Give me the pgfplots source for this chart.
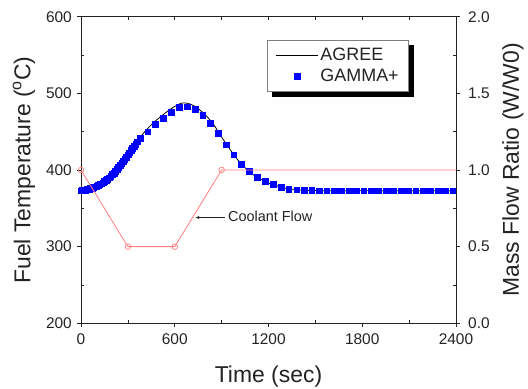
\documentclass[border=0pt]{standalone}
\usepackage{fontspec}
\setmainfont{Liberation Sans}
\usepackage{pgfplots}
\pgfplotsset{compat=1.18}
\usetikzlibrary{arrows.meta,backgrounds}
\definecolor{txt}{RGB}{35,35,35}
\definecolor{cool}{RGB}{255,125,125}
\definecolor{gblue}{RGB}{0,0,255}
\begin{document}
\begin{tikzpicture}
\useasboundingbox (-81bp,-65.7bp) rectangle (447bp,323.3bp);
\pgfplotsset{
  base/.style={
    width=375bp, height=306.6bp, scale only axis,
    xmin=0, xmax=2400,
    /pgf/number format/assume math mode=true,
    /pgf/number format/1000 sep={},
    tick align=inside,
    major tick length=-4bp, minor tick length=3.5bp,
    every tick/.style={txt, line width=0.6bp},
    axis line style={txt, line width=0.8bp},
    ticklabel style={font=\fontsize{15.5}{18}\selectfont, text=txt},
    label style={font=\fontsize{23}{27}\selectfont, text=txt},
  }
}
\begin{axis}[base,
  ymin=200, ymax=600,
  xtick={0,600,1200,1800,2400}, minor xtick={300,900,1500,2100},
  ytick={200,300,400,500,600}, minor ytick={250,350,450,550},
  xtick pos=bottom, ytick pos=left,
  yticklabel style={anchor=east, inner sep=0pt, xshift=-9bp},
  xticklabel style={anchor=north, inner sep=0pt, yshift=-10bp},
  xlabel={Time (sec)},
  ylabel={Fuel Temperature (\textsuperscript{o}C)},
  xlabel style={at={(axis description cs:0.5,-0.173)}, anchor=center},
  ylabel style={at={(axis description cs:-0.152,0.5)}, anchor=center},
  legend style={name=leg, at={(0.4968,0.924)}, anchor=north west, draw=gray, fill=white,
    line width=0.8bp,
    font=\fontsize{18}{21}\selectfont, text=txt,
    inner xsep=8bp, inner ysep=6bp, row sep=3bp},
  legend cell align=left,
  legend image code/.code={\draw[mark repeat=2,mark phase=2,#1] plot coordinates {(0bp,0bp) (21bp,0bp) (42bp,0bp)};},
]
\addplot[black, line width=0.8bp, smooth, tension=0.5] table {
t T
0 373
50 375
100 379
150 385
200 394
250 406
300 420
350 434
400 448
450 459
500 468
550 476
600 483
650 487.5
700 486
750 480
800 471
850 459
900 443
950 428
1000 414
1050 403
1100 394
1150 388
1200 383
1250 379.5
1300 376.5
1350 375
1400 374
1450 373.4
1500 373.1
1600 373
1800 373
2000 373
2200 373
2400 373
};
\addlegendentry{AGREE}
\addplot[only marks, mark=square*, mark size=2.9bp, gblue, mark options={draw=gblue, fill=gblue}] table {
t T
0 373
10 373.2
20 373.5
30 374
40 374.5
50 375.2
60 376
70 376.7
80 377.5
90 378.2
100 379
110 380
120 381
130 382.2
140 383.5
150 385
160 386.5
170 388.2
180 390
190 392
200 394
210 396.2
220 398.5
230 401
240 403.5
250 406.2
260 409
270 411.7
280 414.5
290 417.2
300 420
310 422.7
320 425.5
330 428.2
340 431
350 434
360 437
378 442
427 450
476 460
527 468
578 475.5
627 482
678 482.5
730 479
779 472
828 461.5
879 448
928 433
977 420
1026 408
1077 398
1128 391
1178 385
1229 381
1280 377.5
1329 375.3
1380 374.2
1429 373.5
1477 373.2
1524 373
1572 373
1619 373
1667 373
1714 373
1762 373
1809 373
1857 373
1904 373
1952 373
1999 373
2047 373
2094 373
2142 373
2189 373
2237 373
2284 373
2332 373
2380 373
};
\addlegendentry{GAMMA+}
\draw[txt, line width=0.6bp, -{Stealth[length=4bp,width=3bp]}] (axis cs:920,338) -- (axis cs:733,338);
\node[anchor=west, inner sep=0pt, font=\fontsize{14.5}{17}\selectfont, text=txt] at (axis cs:940,340) {Coolant Flow};
\end{axis}
\begin{axis}[base,
  ymin=0, ymax=2,
  axis x line=none, axis y line*=right,
  ytick={0,0.5,1,1.5,2}, minor ytick={0.25,0.75,1.25,1.75},
  yticklabel style={anchor=west, inner sep=0pt, xshift=12bp,
    /pgf/number format/.cd, fixed, fixed zerofill, precision=1},
  ylabel={Mass Flow Ratio (W/W0)},
  ylabel style={at={(axis description cs:1.152,0.5)}, anchor=center},
]
\addplot[cool, line width=0.8bp, mark=o, mark size=2.8bp, mark indices={1,2,3,4}, mark options={fill=white, line width=0.7bp}] coordinates {
(0,1.0) (300,0.5) (600,0.5) (900,1.0) (2400,1.0)
};
\end{axis}
\begin{axis}[base,
  ymin=200, ymax=600,
  axis y line=none, axis x line*=top,
  xtick={0,600,1200,1800,2400}, minor xtick={300,900,1500,2100},
  major tick length=3.5bp,
  xticklabels={},
]
\end{axis}
\begin{pgfonlayer}{background}
\fill[black] ([shift={(5bp,-5bp)}]leg.south west) rectangle ([shift={(5bp,-5bp)}]leg.north east);
\end{pgfonlayer}
\end{tikzpicture}
\end{document}
